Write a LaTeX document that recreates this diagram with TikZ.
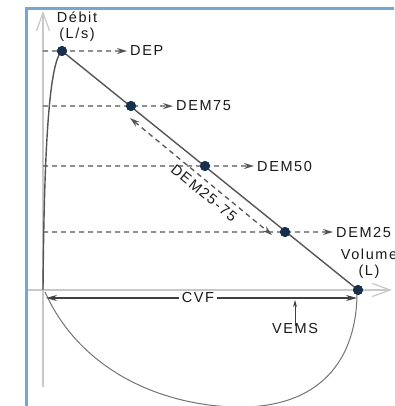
\documentclass[tikz,border=0pt]{standalone}
\usepackage{fontspec}
\setmainfont{Liberation Sans}[LetterSpace=11]
\usetikzlibrary{arrows.meta}
\definecolor{frameblue}{RGB}{118,166,212}
\definecolor{navy}{RGB}{22,48,78}
\definecolor{axisgray}{RGB}{200,200,200}
\definecolor{linegray}{RGB}{85,85,85}
\definecolor{txt}{RGB}{25,25,25}
\begin{document}
\begin{tikzpicture}[x=1pt,y=-1pt,
  lbl/.style={inner sep=0pt,text=txt,font=\fontsize{14.5}{16}\selectfont},
  pt/.style={circle,fill=navy,inner sep=0pt,minimum size=10pt},
  guide/.style={draw=linegray,line width=1.3pt,dash pattern=on 5pt off 4pt},
  guidearrow/.style={guide,-{Stealth[length=10pt,width=6pt]}},
  axis/.style={draw=axisgray,line width=2.5pt},
  axtip/.style={-{Straight Barb[length=18pt,width=13pt,line width=1.2pt]}},
  curve/.style={draw=linegray,line width=1.4pt},
  lowcurve/.style={draw=black!55,line width=1pt},
  solidarrow/.style={draw=black!75,line width=1.2pt}]
\useasboundingbox (0,0) rectangle (394,406);
\fill[white] (0,0) rectangle (394,406);
% frame
\draw[frameblue,line width=2.2pt] (26.5,406) -- (26.5,8.5) -- (394,8.5);
% axes
\coordinate (O) at (43,290);
\coordinate (ybot) at (43,387);
\coordinate (ytop) at (43,11);
\coordinate (xleft) at (28,290);
\coordinate (xright) at (392,290);
\draw[axis] (ybot) -- (43,22);
\draw[axis] (xleft) -- (382,290);
\draw[axisgray,axtip,line width=1.2pt] (43,24) -- (ytop);
\draw[axisgray,axtip,line width=1.2pt] (380,290) -- (xright);
% points
\node[pt] (dep) at (62,51) {};
\node[pt] (d75) at (131,106) {};
\node[pt] (d50) at (205,166) {};
\node[pt] (d25) at (285,232) {};
\node[pt] (vol) at (358,290) {};
% labels
\node[lbl,anchor=base west] (lDEP) at (130,56) {DEP};
\node[lbl,anchor=base west] (l75) at (176,111) {DEM75};
\node[lbl,anchor=base west] (l50) at (257,171) {DEM50};
\node[lbl,anchor=base west] (l25) at (336,237) {DEM25};
\node[lbl,align=center] (ydeb) at (77,27) {Débit\\(L/s)};
\node[lbl,align=center] (xvol) at (369,264) {Volume\\(L)};
% guide lines
\coordinate (g0) at (43,51);
\coordinate (g1) at (43,106);
\coordinate (g2) at (43,166);
\coordinate (g3) at (43,232);
\draw[guidearrow] (g0) -- ([xshift=-3pt]lDEP.west);
\draw[guidearrow] (g1) -- ([xshift=-3pt]l75.west);
\draw[guidearrow] (g2) -- ([xshift=-3pt]l50.west);
\draw[guidearrow] (g3) -- ([xshift=-3pt]l25.west);
% lower curve
\coordinate (lc0) at (45,292);
\coordinate (lcb) at (235,407);
\coordinate (lc1) at (357,292);
\draw[lowcurve] (lc0) .. controls (80,370) and (160,405) .. (lcb)
   .. controls (320,409) and (357,360) .. (lc1);
% upper curve and main line
\draw[curve] (O) .. controls (44,165) and (48,62) .. (dep.center);
\draw[curve] (dep.center) -- (vol.center);
% DEM25-75 arrow
\coordinate (a1) at (130,118);
\coordinate (a2) at (272,235);
\draw[guide,{Stealth[length=10pt,width=6pt]}-{Stealth[length=10pt,width=6pt]}] (a1) -- (a2)
  node[lbl,sloped,pos=0.57,below=5pt] (l2575) {DEM25-75};
% CVF
\coordinate (c1) at (46,298);
\coordinate (c2) at (357,298);
\draw[solidarrow,{Stealth[length=11pt,width=6pt]}-{Stealth[length=11pt,width=6pt]}] (c1) -- (c2);
\node[lbl,fill=white,inner xsep=3pt,inner ysep=1pt] (cvf) at (198,298) {CVF};
% VEMS
\node[lbl] (vems) at (295,329) {VEMS};
\coordinate (v1) at (295,300);
\draw[solidarrow,line width=1pt,-{Stealth[length=7pt,width=4pt]}] ([yshift=-2pt]vems.north) -- (v1);
% redraw points on top
\foreach \p in {dep,d75,d50,d25,vol} \fill[navy] (\p) circle (5pt);
\end{tikzpicture}
\end{document}
